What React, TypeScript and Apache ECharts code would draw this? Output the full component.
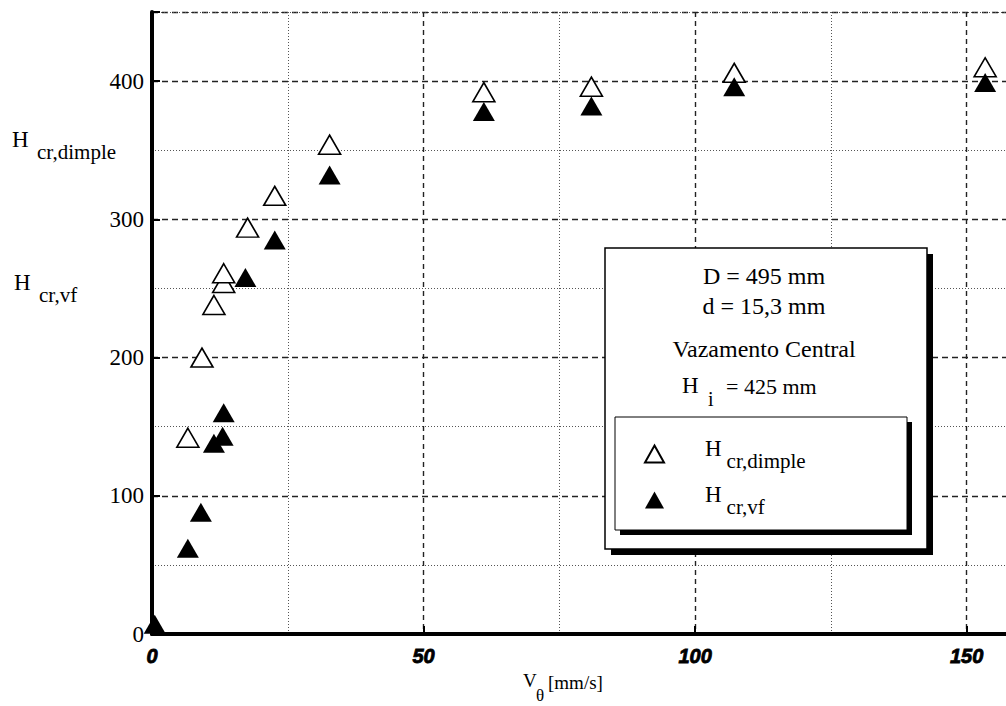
import React, { useEffect, useRef } from "react";
import * as echarts from "echarts";

// Critical submergence vs. tangential velocity (central drain)
const dimpleSpeed = [6.6, 9.2, 11.4, 13.2, 13.2, 17.6, 22.6, 32.7, 61.1, 80.9, 107.2, 153.4];
const dimpleHeight = [142, 200, 238, 254, 261, 294, 317, 354, 392, 396, 406, 410];

const vfSpeed = [0.5, 6.6, 9.0, 11.4, 13.0, 13.2, 17.2, 22.6, 32.7, 61.1, 80.9, 107.2, 153.4];
const vfHeight = [7, 62, 88, 138, 143, 160, 258, 285, 332, 378, 382, 396, 399];

const xTicks = [0, 50, 100, 150];
const yTicks = [0, 100, 200, 300, 400];

const infoLines = ["D = 495 mm", "d = 15,3 mm", "Vazamento Central"];

const SERIF = "Liberation Serif";

export default function App() {
  const ref = useRef<HTMLDivElement>(null);

  useEffect(() => {
    document.body.style.margin = "0";
    document.body.style.overflow = "hidden";
    document.documentElement.style.overflow = "hidden";
    const chart = echarts.init(ref.current!, null, { renderer: "svg" });

    const pairs = (xs: number[], ys: number[]) => xs.map((x, i) => [x, ys[i]]);

    const serifText = (x: number, y: number, text: string, size: number, extra: any = {}) => ({
      type: "text",
      z: 14,
      x,
      y,
      style: {
        text,
        fontFamily: SERIF,
        fontSize: size,
        fill: "#000",
        verticalAlign: "middle",
        ...extra,
      },
    });

    const subRich = {
      h: { fontFamily: SERIF, fontSize: 23, color: "#000", verticalAlign: "top" as const, padding: [0, 0, 0, 36] },
      s: { fontFamily: SERIF, fontSize: 21, color: "#000", verticalAlign: "bottom" as const, padding: [13, 0, 0, 5] },
    };

    const option: any = {
      animation: false,
      backgroundColor: "#fff",
      grid: { left: 152, right: 0, top: 12, bottom: 72 },
      xAxis: [
        {
          type: "value",
          min: 0,
          max: 160,
          interval: 50,
          position: "bottom",
          axisLine: { lineStyle: { color: "#000", width: 4 } },
          axisTick: { inside: true, length: 8, lineStyle: { color: "#000", width: 2 } },
          axisLabel: {
            margin: 12,
            fontFamily: "Liberation Sans",
            fontStyle: "italic",
            fontWeight: "bold",
            fontSize: 20,
            color: "#000",
            textBorderColor: "#000",
            textBorderWidth: 0.8,
            formatter: (v: number) => (xTicks.includes(v) ? String(v) : ""),
          },
          splitLine: { show: true, lineStyle: { color: "#222", width: 1.4, type: [5, 4] } },
        },
        {
          type: "value",
          min: 0,
          max: 160,
          interval: 25,
          position: "top",
          axisLine: { lineStyle: { color: "#000", width: 3.5 } },
          axisTick: { show: false },
          axisLabel: { show: false },
          splitLine: {
            show: true,
            lineStyle: { color: ["rgba(0,0,0,0)", "#555"], width: 1, type: [1, 2] },
          },
        },
      ],
      yAxis: [
        {
          type: "value",
          min: 0,
          max: 450,
          interval: 100,
          position: "left",
          axisLine: { lineStyle: { color: "#000", width: 4 } },
          axisTick: { inside: true, length: 8, lineStyle: { color: "#000", width: 2 } },
          axisLabel: {
            margin: 8,
            fontFamily: SERIF,
            fontSize: 23,
            color: "#000",
            formatter: (v: number) => (yTicks.includes(v) ? String(v) : ""),
          },
          splitLine: { show: true, lineStyle: { color: "#222", width: 1.4, type: [6, 4] } },
        },
        {
          type: "value",
          min: 0,
          max: 450,
          interval: 50,
          position: "left",
          axisLine: { show: false },
          axisTick: { show: false },
          axisLabel: { show: false },
          splitLine: {
            show: true,
            lineStyle: { color: ["rgba(0,0,0,0)", "#555"], width: 1, type: [1, 2] },
          },
        },
      ],
      legend: {
        orient: "vertical",
        left: 639,
        top: 432,
        itemWidth: 19,
        itemHeight: 17,
        itemGap: 12,
        z: 20,
        data: ["dimple", "vf"],
        formatter: (name: string) =>
          name === "dimple" ? "{h|H}{s|cr,dimple}" : "{h|H}{s|cr,vf}",
        textStyle: { fontFamily: SERIF, rich: subRich },
      },
      graphic: [
        // outer info panel with drop shadow
        { type: "rect", z: 10, shape: { x: 611, y: 254, width: 322, height: 301 }, style: { fill: "#000" } },
        { type: "rect", z: 11, shape: { x: 605, y: 248, width: 322, height: 301 }, style: { fill: "#fff", stroke: "#000", lineWidth: 1.5 } },
        // inner legend frame with drop shadow
        { type: "rect", z: 12, shape: { x: 620, y: 422, width: 292, height: 113 }, style: { fill: "#000" } },
        { type: "rect", z: 13, shape: { x: 615, y: 417, width: 292, height: 113 }, style: { fill: "#fff", stroke: "#000", lineWidth: 1 } },
        ...infoLines.map((t, i) => serifText(764, [276, 306, 349][i], t, 24, { align: "center" })),
        serifText(682, 385, "H", 23),
        serifText(708, 399, "i", 20),
        serifText(726, 386, "= 425 mm", 22),
        // y-axis quantity names
        serifText(12, 139, "H", 23),
        serifText(37, 152, "cr,dimple", 21),
        serifText(14, 282, "H", 23),
        serifText(39, 295, "cr,vf", 21),
        // x-axis quantity name
        serifText(523, 680, "V", 19),
        serifText(536, 695, "θ", 17),
        serifText(548, 682, "[mm/s]", 19),
      ],
      series: [
        {
          name: "dimple",
          type: "scatter",
          xAxisIndex: 0,
          yAxisIndex: 0,
          symbol: "triangle",
          symbolSize: [22, 19],
          itemStyle: { color: "#fff", borderColor: "#000", borderWidth: 1.6, opacity: 1 },
          data: pairs(dimpleSpeed, dimpleHeight),
          z: 3,
        },
        {
          name: "vf",
          type: "scatter",
          xAxisIndex: 0,
          yAxisIndex: 0,
          symbol: "triangle",
          symbolSize: [22, 19],
          itemStyle: { color: "#000", opacity: 1 },
          data: pairs(vfSpeed, vfHeight),
          z: 4,
        },
      ],
    };

    chart.setOption(option);
    return () => chart.dispose();
  }, []);

  return <div ref={ref} style={{ width: 1024, height: 706 }} />;
}
